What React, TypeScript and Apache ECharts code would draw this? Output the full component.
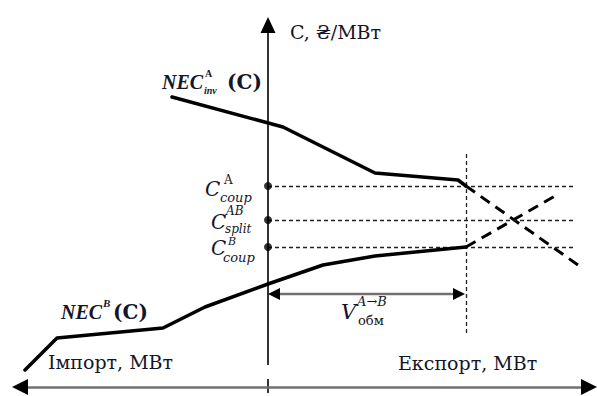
import React, { useEffect, useRef } from "react";
import * as echarts from "echarts";

// Coordinates: volume (x, MW, 0 = vertical axis), price (y, 0 = horizontal axis)
const necInvAVolume = [-96, 15, 107, 190, 198];
const necInvAPrice = [290, 260, 214, 207, 201];
const necInvAExtVolume = [198, 310];
const necInvAExtPrice = [201, 122];

const necBVolume = [-243, -211, -105, -63, 0, 55, 107, 198];
const necBPrice = [17, 49, 59, 80, 103, 122, 131, 140];
const necBExtVolume = [198, 287];
const necBExtPrice = [140, 191];

const levelPrices = [201, 167, 140]; // C_coup^A, C_split^AB, C_coup^B
const levelEndVolume = 305;
const exchangeVolume = 198;
const exchangeArrowPrice = 93;
const exchangeGuide = [54, 234];

const xRange = [-268, 329];
const yRange = [-9, 387];
const xAxisExtent = [-248, 321];
const yAxisExtent = [22, 362];

const ink = "#15152a";
const serif = "'DejaVu Serif', 'Liberation Serif', serif";
const serif2 = "'Liberation Serif', 'DejaVu Serif', serif";

function zip(a: number[], b: number[]) {
  return a.map((v, i) => [v, b[i]]);
}

function txt(text: string, x: number, y: number, size: number, o: any = {}) {
  return {
    type: "text",
    x,
    y,
    silent: true,
    style: {
      text,
      fill: o.fill || ink,
      fontFamily: o.family || serif2,
      fontSize: size,
      fontStyle: o.italic ? "italic" : "normal",
      fontWeight: o.bold ? "bold" : "normal",
      align: o.align || "left",
      textAlign: o.align || "left",
      verticalAlign: "middle",
      textVerticalAlign: "middle",
    },
  };
}

function head(from: number[], to: number[], size: number[]) {
  return [
    { coord: from, symbol: "none", lineStyle: { color: "#000", width: 0.5, type: "solid" } },
    { coord: to, symbol: "triangle", symbolSize: size },
  ];
}

export default function App() {
  const ref = useRef<HTMLDivElement>(null);
  useEffect(() => {
    const chart = echarts.init(ref.current!, null, { renderer: "svg" });
    const solid = { color: "#000", width: 3.5, cap: "round", join: "round" };
    const dashedThick = { color: "#000", width: 3, type: [11, 7] };
    const guide = { color: "#222", width: 1.3, type: [4, 3] };
    const gray = { color: "#707070", width: 2.6, type: "solid" };
    chart.setOption({
      animation: false,
      backgroundColor: "#fff",
      grid: { left: 0, right: 0, top: 0, bottom: 0 },
      xAxis: { type: "value", min: xRange[0], max: xRange[1], show: false },
      yAxis: { type: "value", min: yRange[0], max: yRange[1], show: false },
      series: [
        {
          type: "line",
          data: zip(necInvAVolume, necInvAPrice),
          symbol: "none",
          lineStyle: solid,
          z: 5,
        },
        {
          type: "line",
          data: zip(necInvAExtVolume, necInvAExtPrice),
          symbol: "none",
          lineStyle: dashedThick,
        },
        {
          type: "line",
          data: zip(necBVolume, necBPrice),
          symbol: "none",
          lineStyle: solid,
          z: 5,
        },
        {
          type: "line",
          data: zip(necBExtVolume, necBExtPrice),
          symbol: "none",
          lineStyle: dashedThick,
        },
        {
          type: "scatter",
          data: levelPrices.map((p) => [0, p]),
          symbolSize: 8,
          itemStyle: { color: "#000" },
          z: 6,
          markLine: {
            silent: true,
            symbol: "none",
            label: { show: false },
            lineStyle: guide,
            data: [
              ...levelPrices.map((p) => [
                { coord: [0, p] },
                { coord: [levelEndVolume, p] },
              ]),
              [
                { coord: [exchangeVolume, exchangeGuide[0]] },
                { coord: [exchangeVolume, exchangeGuide[1]] },
              ],
              // vertical axis
              [
                { coord: [0, yAxisExtent[0]], lineStyle: { color: "#000", width: 1.6, type: "solid" }, symbol: "none" },
                { coord: [0, yAxisExtent[1]], symbol: "triangle", symbolSize: [15, 16] },
              ],
              // tick on horizontal axis
              [
                { coord: [0, -6], lineStyle: { color: "#000", width: 1.6, type: "solid" } },
                { coord: [0, 8] },
              ],
              // horizontal axis
              [
                { coord: [xAxisExtent[0], 0], lineStyle: gray },
                { coord: [xAxisExtent[1], 0] },
              ],
              head([xAxisExtent[0] + 6, 0], [xAxisExtent[0], 0], [16, 16]),
              head([xAxisExtent[1] - 6, 0], [xAxisExtent[1], 0], [16, 16]),
              // exchange volume arrow
              [
                { coord: [5, exchangeArrowPrice], lineStyle: { color: "#707070", width: 2.4, type: "solid" } },
                { coord: [exchangeVolume - 7, exchangeArrowPrice] },
              ],
              head([10, exchangeArrowPrice], [6, exchangeArrowPrice], [12, 12]),
              head([exchangeVolume - 12, exchangeArrowPrice], [exchangeVolume - 7, exchangeArrowPrice], [12, 12]),
            ],
          },
        },
      ],
      graphic: [
        txt("C, ₴/МВт", 290, 32, 19, { family: serif }),
        txt("Імпорт, МВт", 48, 362, 19, { family: serif }),
        txt("Експорт, МВт", 398, 363, 19, { family: serif }),
        // NEC_inv^A (C)
        txt("NEC", 162, 82, 20, { bold: true, italic: true }),
        txt("A", 205, 73, 10, { bold: true }),
        txt("inv", 204, 90, 10, { bold: true, italic: true }),
        txt("(C)", 227, 82, 20, { bold: true, family: serif }),
        // NEC^B (C)
        txt("NEC", 61, 312, 20, { bold: true, italic: true }),
        txt("B", 103, 303, 11, { bold: true, italic: true }),
        txt("(C)", 113, 312, 20, { bold: true, family: serif }),
        // C_coup^A
        txt("C", 205, 189, 20, { italic: true, family: serif }),
        txt("A", 224, 180, 12, { family: serif }),
        txt("coup", 220, 197, 13, { italic: true, family: serif }),
        // C_split^AB
        txt("C", 211, 222, 20, { italic: true, family: serif }),
        txt("AB", 226, 211, 12, { italic: true, family: serif }),
        txt("split", 225, 229, 12, { italic: true, family: serif }),
        // C_coup^B
        txt("C", 211, 248, 20, { italic: true, family: serif }),
        txt("B", 228, 241, 11, { italic: true, family: serif }),
        txt("coup", 223, 257, 13, { italic: true, family: serif }),
        // V_обм^{A→B}
        txt("V", 341, 312, 21, { italic: true, family: serif }),
        txt("A→B", 357, 301, 13, { italic: true, family: serif }),
        txt("обм", 358, 320, 13, { family: serif }),
      ],
    });
    return () => chart.dispose();
  }, []);
  return (
    <div
      ref={ref}
      style={{ position: "absolute", left: 0, top: 0, width: 597, height: 396, background: "#fff" }}
    />
  );
}
